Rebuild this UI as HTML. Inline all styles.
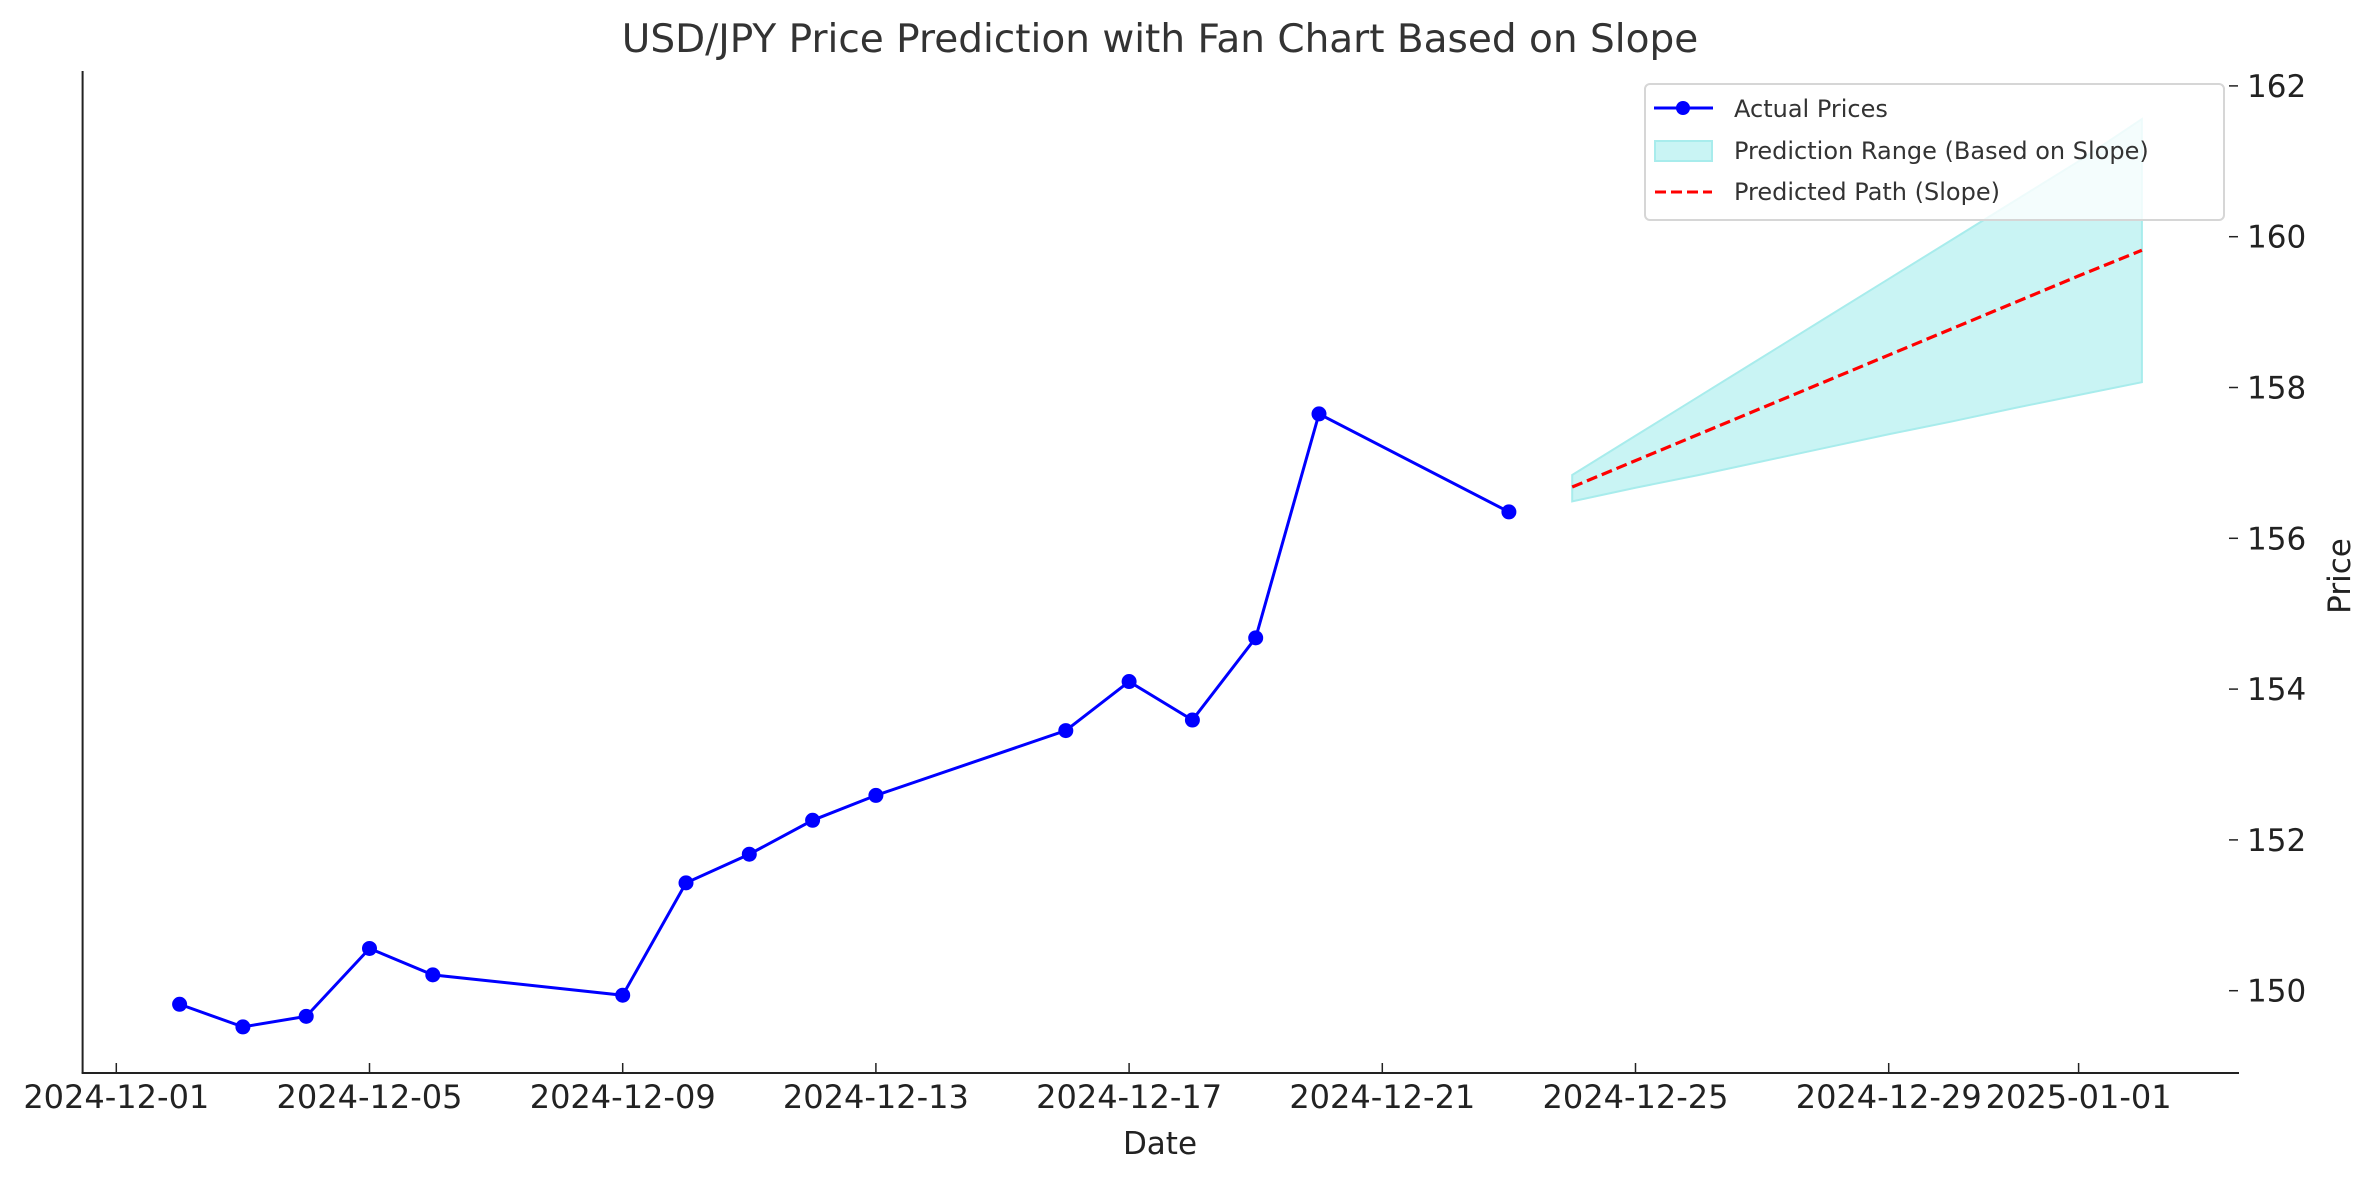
<!DOCTYPE html>
<html><head><meta charset="utf-8"><style>
html,body{margin:0;padding:0;background:#fff;}
svg{display:block;font-family:"DejaVu Sans","Liberation Sans",sans-serif;}
</style></head><body>
<svg id="chart" width="2375" height="1180" viewBox="0 0 2375 1180" xmlns="http://www.w3.org/2000/svg">
<rect width="2375" height="1180" fill="#fff"/>
<text x="1160" y="52" text-anchor="middle" font-size="39" fill="#333">USD/JPY Price Prediction with Fan Chart Based on Slope</text>
<g id="plot"></g>
<text x="1160" y="1154" text-anchor="middle" font-size="31" fill="#222">Date</text>
<text transform="translate(2350,576) rotate(-90)" text-anchor="middle" font-size="31" fill="#222">Price</text>
<g>
<rect x="1645" y="84" width="579" height="136" rx="5" fill="#fff" fill-opacity="0.8" stroke="#d6d6d6" stroke-width="2"/>
<g>
<line x1="1654" y1="108" x2="1713" y2="108" stroke="#0000ff" stroke-width="3"/>
<circle cx="1683" cy="108" r="7" fill="#0000ff"/>
<text x="1734" y="117" font-size="24" fill="#333">Actual Prices</text></g>
<g>
<rect x="1655" y="141" width="57" height="20" fill="#c9f4f4" stroke="#a8ecec" stroke-width="2"/>
<text x="1734" y="159" font-size="24" fill="#333">Prediction Range (Based on Slope)</text></g>
<g>
<line x1="1655" y1="192" x2="1712" y2="192" stroke="#ff0000" stroke-width="3" stroke-dasharray="11,5"/>
<text x="1734" y="200" font-size="24" fill="#333">Predicted Path (Slope)</text></g>
</g>
</svg>
<script>
const actualDates = ["2024-12-02","2024-12-03","2024-12-04","2024-12-05","2024-12-06","2024-12-09","2024-12-10","2024-12-11","2024-12-12","2024-12-13","2024-12-16","2024-12-17","2024-12-18","2024-12-19","2024-12-20","2024-12-23"];
const actualPrices = [149.82,149.52,149.66,150.56,150.21,149.94,151.43,151.81,152.26,152.59,153.45,154.10,153.59,154.68,157.65,156.35];
const predDates = ["2024-12-24","2024-12-25","2024-12-26","2024-12-27","2024-12-28","2024-12-29","2024-12-30","2024-12-31","2025-01-01","2025-01-02"];
const predPath = [156.68,157.03,157.38,157.73,158.08,158.43,158.78,159.13,159.48,159.82];
const predUpper = [156.84,157.36,157.88,158.40,158.92,159.44,159.96,160.48,161.00,161.56];
const predLower = [156.49,156.67,156.84,157.02,157.20,157.38,157.55,157.73,157.90,158.07];
const xTickLabels = ["2024-12-01","2024-12-05","2024-12-09","2024-12-13","2024-12-17","2024-12-21","2024-12-25","2024-12-29","2025-01-01"];
const yTickValues = [150,152,154,156,158,160,162];

const NS="http://www.w3.org/2000/svg";
const g=document.getElementById('plot');
const day0=Date.UTC(2024,11,1);
function dayNum(s){const p=s.split('-');return (Date.UTC(+p[0],+p[1]-1,+p[2])-day0)/86400000;}
function xs(s){return 116.3+dayNum(s)*63.3;}
function ys(v){return 236.7+(160-v)*75.4;}
function mk(tag,attrs){const e=document.createElementNS(NS,tag);for(const k in attrs)e.setAttribute(k,attrs[k]);g.appendChild(e);return e;}

// fan
let pts=predDates.map((d,i)=>xs(d)+','+ys(predUpper[i]));
for(let i=predDates.length-1;i>=0;i--)pts.push(xs(predDates[i])+','+ys(predLower[i]));
const fan=mk('polygon',{points:pts.join(' '),fill:'#c9f4f4',stroke:'#a8ecec','stroke-width':2});



const pp=mk('polyline',{points:predDates.map((d,i)=>xs(d)+','+ys(predPath[i])).join(' '),fill:'none',stroke:'#ff0000','stroke-width':3.2,'stroke-dasharray':'11,5'});



const al=mk('polyline',{points:actualDates.map((d,i)=>xs(d)+','+ys(actualPrices[i])).join(' '),fill:'none',stroke:'#0000ff','stroke-width':3});


actualDates.forEach((d,i)=>{
  const c=mk('circle',{cx:xs(d),cy:ys(actualPrices[i]),r:7.5,fill:'#0000ff'});
  
  
});

// axes
const ls=mk('line',{x1:82.6,y1:71,x2:82.6,y2:1073,stroke:'#222','stroke-width':2});


const bs=mk('line',{x1:81.6,y1:1073,x2:2239,y2:1073,stroke:'#222','stroke-width':2});



xTickLabels.forEach(s=>{
  const x=xs(s);
  const t=mk('line',{x1:x,y1:1063,x2:x,y2:1073,stroke:'#222','stroke-width':1.5});
  
  
  const tx=mk('text',{x:x,y:1108,'text-anchor':'middle','font-size':32,fill:'#222'});
  tx.textContent=s;
  
  
});
yTickValues.forEach(v=>{
  const y=ys(v);
  const t=mk('line',{x1:2229,y1:y,x2:2238,y2:y,stroke:'#222','stroke-width':1.5});
  
  
  const tx=mk('text',{x:2247,y:y+11,'font-size':31,fill:'#222'});
  tx.textContent=v;
  
  
});
</script>
</body></html>
